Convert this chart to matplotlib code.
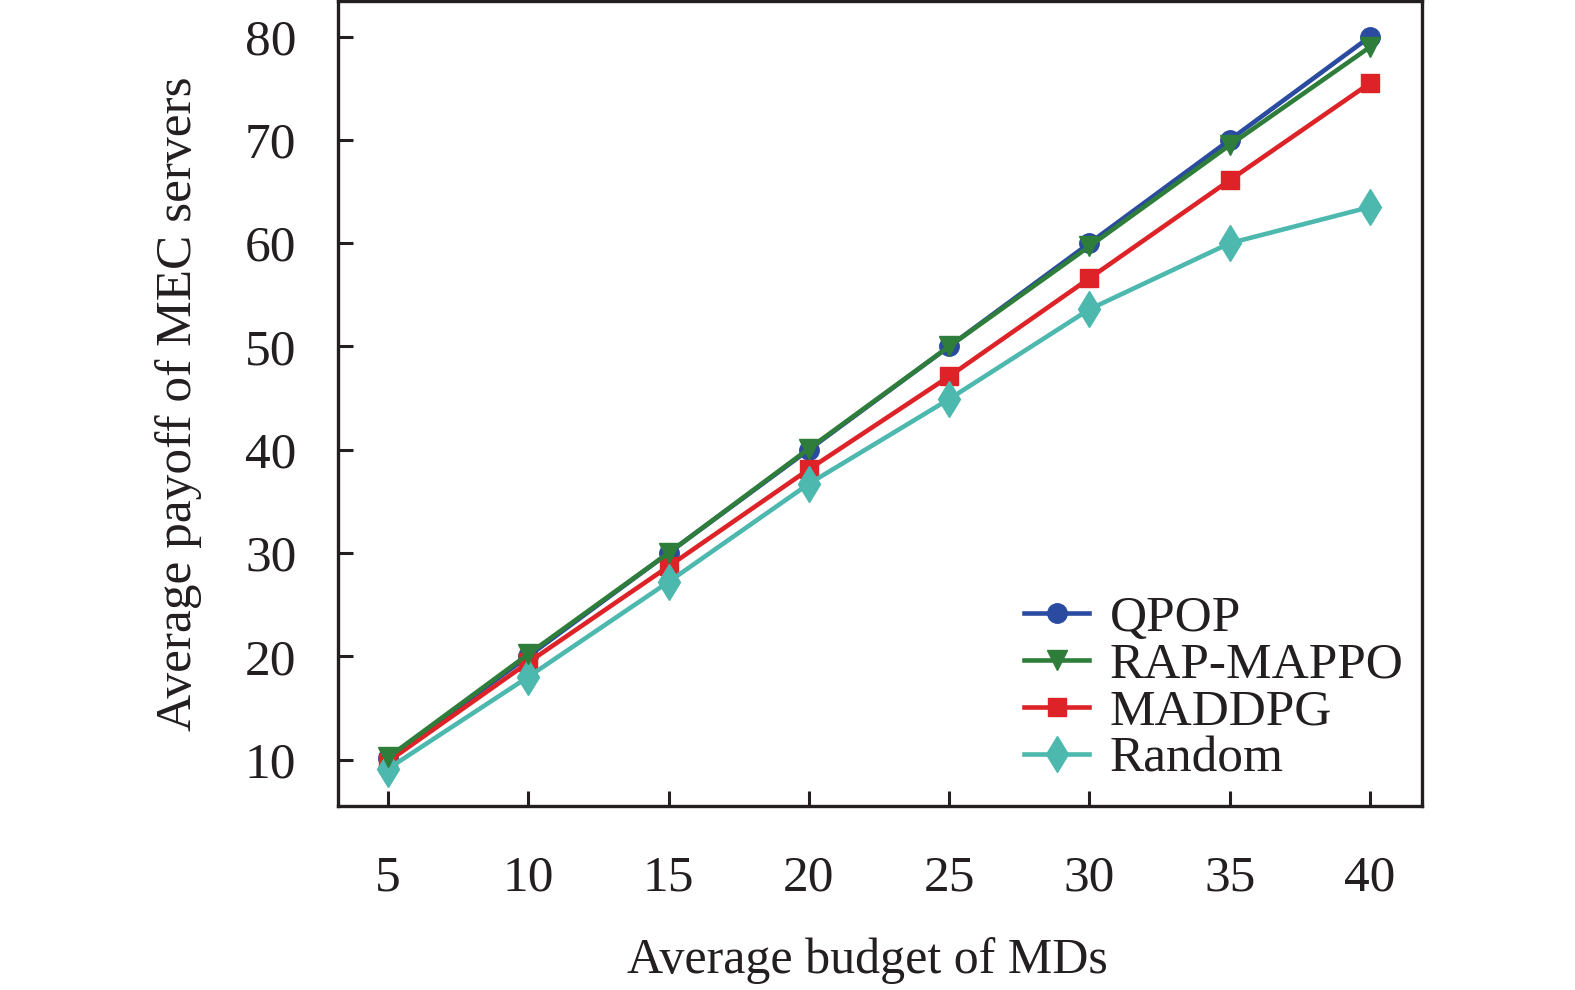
import matplotlib
matplotlib.use("Agg")
import matplotlib.pyplot as plt

budgets = [5, 10, 15, 20, 25, 30, 35, 40]
qpop = [10.1, 20.0, 30.0, 40.0, 50.0, 60.0, 70.0, 80.0]
rap_mappo = [10.2, 20.2, 30.0, 40.1, 50.0, 59.7, 69.5, 79.0]
maddpg = [9.8, 19.4, 28.7, 38.1, 47.1, 56.6, 66.1, 75.5]
random_ = [9.1, 18.0, 27.2, 36.7, 44.9, 53.6, 60.0, 63.5]

series_names = ["QPOP", "RAP-MAPPO", "MADDPG", "Random"]
yticks = [10, 20, 30, 40, 50, 60, 70, 80]

plt.rcParams['font.family'] = ['Liberation Serif', 'DejaVu Serif']
plt.rcParams['mathtext.fontset'] = 'stix'

fig = plt.figure(figsize=(15.75, 9.9), dpi=100)
ax = fig.add_axes([338/1575, 1 - 806/990, (1422-338)/1575, (806-1)/990])

lw = 3.3
ax.plot(budgets, qpop, color='#2B4BA0', lw=lw, marker='o', ms=14, label=series_names[0], zorder=3)
ax.plot(budgets, rap_mappo, color='#2E7D3A', lw=lw, marker='v', ms=14, label=series_names[1], zorder=4)
ax.plot(budgets, maddpg, color='#DD2327', lw=lw, marker='s', ms=13, label=series_names[2], zorder=3)
ax.plot(budgets, random_, color='#4DB8AE', lw=lw, marker='d', ms=18, label=series_names[3], zorder=3)

ax.set_xlim(3.22, 41.85)
ax.set_ylim(5.5, 83.45)
ax.set_xticks(budgets)
ax.set_yticks(yticks)

fs = 37
ax.tick_params(axis='both', direction='in', length=11, width=2.2, labelsize=fs, colors='#231F20')
ax.tick_params(axis='x', pad=35)
ax.tick_params(axis='y', pad=30)
for s in ax.spines.values():
    s.set_linewidth(2.4)
    s.set_color('#231F20')

ax.set_xlabel("Average budget of MDs", fontsize=36, color='#231F20')
ax.set_ylabel("Average payoff of MEC servers", fontsize=fs, color='#231F20')
ax.xaxis.set_label_coords(0.488, -0.163)
ax.yaxis.set_label_coords(-0.125, 0.5)

leg = ax.legend(loc='lower left', bbox_to_anchor=(0.633, 0.029), frameon=False,
                fontsize=fs, handlelength=1.27, handletextpad=0.39, labelspacing=0.0,
                borderpad=0, borderaxespad=0)
for t in leg.get_texts():
    t.set_color('#231F20')

fig.savefig("out.png", dpi=100)
